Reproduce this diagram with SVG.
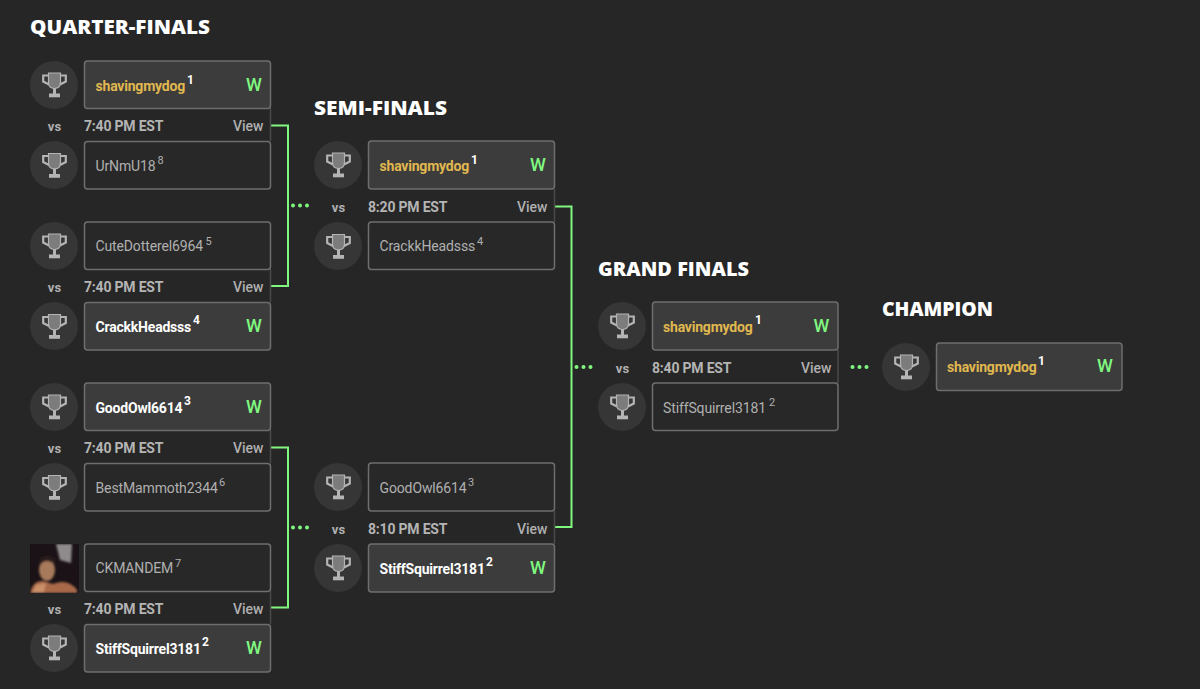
<svg xmlns="http://www.w3.org/2000/svg" width="1200" height="689" viewBox="0 0 1200 689">
<style>
text{font-family:Roboto,"Liberation Sans",sans-serif}
.h{font-family:"Open Sans","Liberation Sans",sans-serif;font-size:20px;font-weight:800;fill:#fff}
.bw{fill:#3c3c3c;stroke:#6e6e6e;stroke-width:1.5}
.bl{fill:#282828;stroke:#6e6e6e;stroke-width:1.5}
.c{fill:#363636}
.g{font-size:14px;fill:#b0b0b0;letter-spacing:-.13px}
.gs{font-size:11px;fill:#b0b0b0}
.y{font-size:14px;font-weight:700;fill:#e0b84f;letter-spacing:-.2px}
.wh{font-size:14px;font-weight:700;fill:#fff;letter-spacing:-.2px}
.ws{font-size:12px;font-weight:700;fill:#fff}
.w{font-size:18px;font-weight:500;fill:#80f880}
.m{font-size:14px;font-weight:700;fill:#b4b4b4;letter-spacing:-.2px}
.v{font-size:14px;font-weight:500;fill:#b0b0b0}
.vs{font-size:13px;font-weight:700;fill:#b0b0b0;text-anchor:middle}
.ln{fill:none;stroke:#80f880;stroke-width:2}
.d{fill:#80f880}
.rail{stroke:#4a4a4a;stroke-width:1.5}
</style>
<defs>
<g id="t">
<path d="M-6-12H6V-2Q6 3 0 3.500 -6 3 -6-2Z" fill="#7c7c7c" stroke="#b4b4b4" stroke-width="1.200"/>
<path d="M-6-9.500H-11.300V-3.500L-5.500-.5M6-9.500H11.300V-3.500L5.500-.5" fill="none" stroke="#b4b4b4" stroke-width="2.200"/>
<rect x="-1.500" y="3" width="3" height="6" fill="#b4b4b4"/>
<rect x="-5.500" y="8.500" width="11" height="3.800" fill="#b4b4b4"/>
</g>
<g id="dots"><circle cx="0" cy="0" r="2" class="d"/><circle cx="7" cy="0" r="2" class="d"/><circle cx="14" cy="0" r="2" class="d"/></g>
<filter id="soft" x="-10%" y="-10%" width="120%" height="120%"><feGaussianBlur stdDeviation="1"/></filter>
<clipPath id="ac"><rect x="30" y="544" width="49" height="49"/></clipPath>
</defs>
<rect width="1200" height="689" fill="#262626"/>
<text class="h" x="30" y="34" textLength="180" lengthAdjust="spacingAndGlyphs">QUARTER-FINALS</text>
<text class="h" x="314" y="115" textLength="133" lengthAdjust="spacingAndGlyphs">SEMI-FINALS</text>
<text class="h" x="598" y="276" textLength="151" lengthAdjust="spacingAndGlyphs">GRAND FINALS</text>
<text class="h" x="882" y="316" textLength="111" lengthAdjust="spacingAndGlyphs">CHAMPION</text>

<g id="connectors">
<path class="ln" d="M271 125.500H288V286H271"/>
<path class="ln" d="M271 447.500H288V607.500H271"/>
<path class="ln" d="M555 206.500H571.500V527H555"/>
<use href="#dots" x="293" y="205.500"/>
<use href="#dots" x="293" y="527.500"/>
<use href="#dots" x="576.500" y="367"/>
<use href="#dots" x="852.500" y="367"/>
</g>

<g id="qf1">
<line class="rail" x1="270.500" y1="108" x2="270.500" y2="141"/>
<circle class="c" cx="54" cy="85" r="24"/><use href="#t" x="54.500" y="85"/>
<rect class="bw" x="84.500" y="61" width="186" height="47.500" rx="3"/>
<text class="y" x="95.500" y="90.500">shavingmydog</text><text class="ws" x="187" y="83.500">1</text>
<text class="w" x="246" y="90.500">W</text>
<text class="vs" x="54.500" y="130.500">vs</text>
<text class="m" x="84" y="130.500">7:40 PM EST</text>
<text class="v" x="233" y="130.500">View</text>
<circle class="c" cx="54" cy="165" r="24"/><use href="#t" x="54.500" y="165.500"/>
<rect class="bl" x="84.500" y="141.500" width="186" height="47.500" rx="3"/>
<text class="g" x="95.500" y="170.500">UrNmU18</text><text class="gs" x="157.500" y="164">8</text>
</g>

<g id="qf2">
<line class="rail" x1="270.500" y1="269" x2="270.500" y2="302"/>
<circle class="c" cx="54" cy="246" r="24"/><use href="#t" x="54.500" y="246"/>
<rect class="bl" x="84.500" y="222" width="186" height="47.500" rx="3"/>
<text class="g" x="95.500" y="251">CuteDotterel6964</text><text class="gs" x="205.500" y="245">5</text>
<text class="vs" x="54.500" y="291.500">vs</text>
<text class="m" x="84" y="291.500">7:40 PM EST</text>
<text class="v" x="233" y="291.500">View</text>
<circle class="c" cx="54" cy="326" r="24"/><use href="#t" x="54.500" y="326.500"/>
<rect class="bw" x="84.500" y="302.500" width="186" height="47.500" rx="3"/>
<text class="wh" x="95.500" y="331.500">CrackkHeadsss</text><text class="ws" x="193" y="324">4</text>
<text class="w" x="246" y="331.500">W</text>
</g>

<g id="qf3">
<line class="rail" x1="270.500" y1="430" x2="270.500" y2="463"/>
<circle class="c" cx="54" cy="407" r="24"/><use href="#t" x="54.500" y="407"/>
<rect class="bw" x="84.500" y="383" width="186" height="47.500" rx="3"/>
<text class="wh" x="95.500" y="412.500">GoodOwl6614</text><text class="ws" x="184" y="405">3</text>
<text class="w" x="246" y="412.500">W</text>
<text class="vs" x="54.500" y="452.500">vs</text>
<text class="m" x="84" y="452.500">7:40 PM EST</text>
<text class="v" x="233" y="452.500">View</text>
<circle class="c" cx="54" cy="487" r="24"/><use href="#t" x="54.500" y="487.500"/>
<rect class="bl" x="84.500" y="463.500" width="186" height="47.500" rx="3"/>
<text class="g" x="95.500" y="492.500">BestMammoth2344</text><text class="gs" x="219" y="486">6</text>
</g>

<g id="qf4">
<line class="rail" x1="270.500" y1="591" x2="270.500" y2="624"/>
<g id="avatar" clip-path="url(#ac)">
<rect x="30" y="544" width="49" height="49" fill="#1a1216"/>
<g filter="url(#soft)">
<path d="M56 544H72L71 563L60 560Z" fill="#8f8a8c"/>
<path d="M30 593Q33 580 43 581L53 584Q68 578 77 590V593Z" fill="#a8694a"/>
<path d="M36 585L46 583L44 593H32Z" fill="#c98f68"/>
<ellipse cx="47" cy="570" rx="8" ry="11" fill="#a87a5c"/>
<path d="M38 560Q46 552 56 559L54 564Q46 558 41 564Z" fill="#2a1a1a"/>
</g>
</g>
<rect class="bl" x="84.500" y="544" width="186" height="47.500" rx="3"/>
<text class="g" x="95.500" y="573">CKMANDEM</text><text class="gs" x="175" y="567">7</text>
<text class="vs" x="54.500" y="613.500">vs</text>
<text class="m" x="84" y="613.500">7:40 PM EST</text>
<text class="v" x="233" y="613.500">View</text>
<circle class="c" cx="54" cy="648" r="24"/><use href="#t" x="54.500" y="648"/>
<rect class="bw" x="84.500" y="624.500" width="186" height="47.500" rx="3"/>
<text class="wh" x="95.500" y="653.500">StiffSquirrel3181</text><text class="ws" x="202" y="646">2</text>
<text class="w" x="246" y="653.500">W</text>
</g>

<g id="sf1">
<line class="rail" x1="554.500" y1="189" x2="554.500" y2="222"/>
<circle class="c" cx="338" cy="165" r="24"/><use href="#t" x="338.500" y="165"/>
<rect class="bw" x="368.500" y="141" width="186" height="48" rx="3"/>
<text class="y" x="379.500" y="170.500">shavingmydog</text><text class="ws" x="471" y="163.500">1</text>
<text class="w" x="530" y="170.500">W</text>
<text class="vs" x="338.500" y="211.500">vs</text>
<text class="m" x="368" y="211.500">8:20 PM EST</text>
<text class="v" x="517" y="211.500">View</text>
<circle class="c" cx="338" cy="246" r="24"/><use href="#t" x="338.500" y="246.500"/>
<rect class="bl" x="368.500" y="222" width="186" height="47.500" rx="3"/>
<text class="g" x="379.500" y="251">CrackkHeadsss</text><text class="gs" x="477" y="245">4</text>
</g>

<g id="sf2">
<line class="rail" x1="554.500" y1="511" x2="554.500" y2="544"/>
<circle class="c" cx="338" cy="487" r="24"/><use href="#t" x="338.500" y="487"/>
<rect class="bl" x="368.500" y="463" width="186" height="48" rx="3"/>
<text class="g" x="379.500" y="492.500">GoodOwl6614</text><text class="gs" x="468" y="486">3</text>
<text class="vs" x="338.500" y="533.500">vs</text>
<text class="m" x="368" y="533.500">8:10 PM EST</text>
<text class="v" x="517" y="533.500">View</text>
<circle class="c" cx="338" cy="568" r="24"/><use href="#t" x="338.500" y="568"/>
<rect class="bw" x="368.500" y="544" width="186" height="48" rx="3"/>
<text class="wh" x="379.500" y="573.500">StiffSquirrel3181</text><text class="ws" x="486" y="566">2</text>
<text class="w" x="530" y="573.500">W</text>
</g>

<g id="gf">
<line class="rail" x1="838" y1="350" x2="838" y2="383"/>
<circle class="c" cx="622" cy="326" r="24"/><use href="#t" x="622.500" y="326"/>
<rect class="bw" x="652.500" y="302" width="185.500" height="48" rx="3"/>
<text class="y" x="663" y="331.500">shavingmydog</text><text class="ws" x="755" y="324">1</text>
<text class="w" x="813.500" y="331.500">W</text>
<text class="vs" x="622.500" y="372.500">vs</text>
<text class="m" x="652" y="372.500">8:40 PM EST</text>
<text class="v" x="801" y="372.500">View</text>
<circle class="c" cx="622" cy="407" r="24"/><use href="#t" x="622.500" y="407"/>
<rect class="bl" x="652.500" y="383" width="185.500" height="47.500" rx="3"/>
<text class="g" x="663" y="412.500">StiffSquirrel3181</text><text class="gs" x="769" y="406">2</text>
</g>

<g id="champion">
<circle class="c" cx="906" cy="367" r="24"/><use href="#t" x="906.500" y="367"/>
<rect class="bw" x="936.500" y="343" width="185.500" height="47.500" rx="3"/>
<text class="y" x="947" y="372">shavingmydog</text><text class="ws" x="1038" y="365">1</text>
<text class="w" x="1097" y="372">W</text>
</g>
</svg>
